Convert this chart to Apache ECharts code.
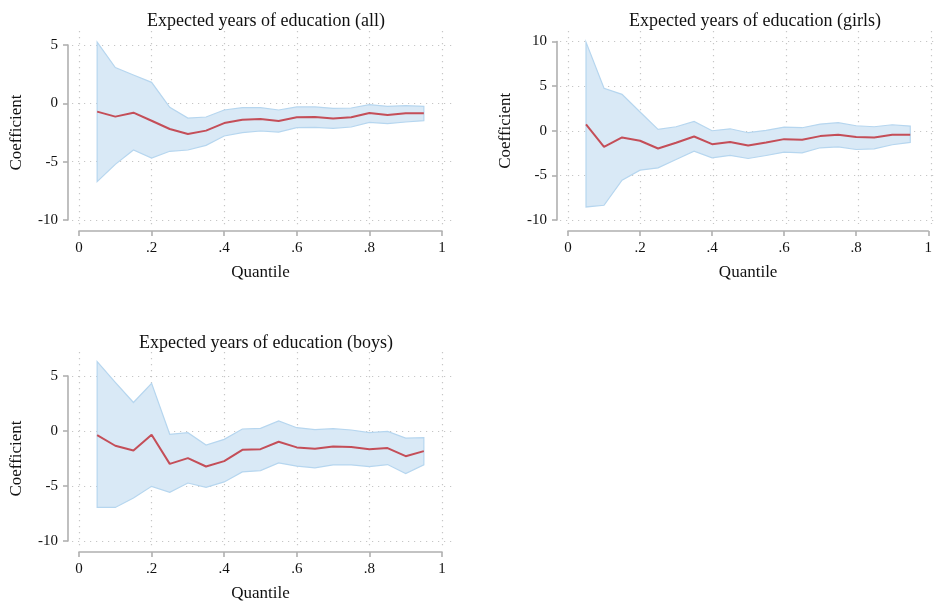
<!DOCTYPE html>
<html>
<head>
<meta charset="utf-8">
<script src="https://cdn.jsdelivr.net/npm/echarts@6/dist/echarts.min.js"></script>
<style>
  html, body { margin: 0; padding: 0; background: #ffffff; }
  #chart { width: 935px; height: 604px; }
</style>
</head>
<body>
<div id="chart"></div>
<script>
// Quantile regression estimates with 95% confidence bands
const quantiles = [0.05, 0.10, 0.15, 0.20, 0.25, 0.30, 0.35, 0.40, 0.45, 0.50,
                   0.55, 0.60, 0.65, 0.70, 0.75, 0.80, 0.85, 0.90, 0.95];
const xTickLabels = ['0', '.2', '.4', '.6', '.8', '1'];
const panelTitles = [
  'Expected years of education (all)',
  'Expected years of education (girls)',
  'Expected years of education (boys)'
];

const allCoef  = [-0.71, -1.14, -0.80, -1.49, -2.20, -2.63, -2.34, -1.69, -1.40, -1.34,
                  -1.51, -1.20, -1.17, -1.31, -1.20, -0.83, -1.00, -0.86, -0.86];
const allUpper = [5.25, 3.06, 2.43, 1.80, -0.34, -1.26, -1.17, -0.57, -0.37, -0.37,
                  -0.57, -0.31, -0.31, -0.43, -0.40, -0.11, -0.26, -0.20, -0.26];
const allLower = [-6.71, -5.23, -4.00, -4.69, -4.11, -4.00, -3.60, -2.80, -2.51, -2.37,
                  -2.46, -2.09, -2.06, -2.14, -2.03, -1.63, -1.74, -1.60, -1.49];

const girlsCoef  = [0.71, -1.80, -0.75, -1.12, -1.99, -1.35, -0.64, -1.50, -1.27, -1.65,
                    -1.31, -0.94, -1.01, -0.60, -0.45, -0.71, -0.75, -0.45, -0.45];
const girlsUpper = [9.93, 4.76, 4.08, 2.10, 0.15, 0.45, 1.05, 0.00, 0.22, -0.22,
                    0.04, 0.41, 0.34, 0.75, 0.90, 0.56, 0.45, 0.67, 0.52];
const girlsLower = [-8.54, -8.35, -5.54, -4.42, -4.16, -3.22, -2.28, -3.03, -2.77, -3.11,
                    -2.77, -2.40, -2.47, -1.91, -1.80, -2.10, -2.02, -1.57, -1.31];

const boysCoef  = [-0.37, -1.34, -1.77, -0.34, -2.99, -2.47, -3.23, -2.74, -1.71, -1.65,
                   -0.98, -1.49, -1.62, -1.40, -1.46, -1.65, -1.55, -2.29, -1.83];
const boysUpper = [6.31, 4.42, 2.59, 4.33, -0.30, -0.15, -1.28, -0.76, 0.18, 0.24,
                   0.91, 0.30, 0.12, 0.21, 0.09, -0.15, -0.03, -0.64, -0.61];
const boysLower = [-6.95, -6.95, -6.10, -5.03, -5.58, -4.73, -5.12, -4.63, -3.72, -3.60,
                   -2.90, -3.20, -3.35, -3.08, -3.08, -3.23, -3.05, -3.87, -3.08];

// Panel geometry (pixels) and y ranges
const panels = [
  { title: panelTitles[0], coef: allCoef, upper: allUpper, lower: allLower,
    left: 79, top: 45, width: 363, height: 175, yMin: -10, yMax: 5,
    gridTop: 31, gridBottom: 227, hLeft: 72, hRight: 452, titleX: 261, titleTop: 7 },
  { title: panelTitles[1], coef: girlsCoef, upper: girlsUpper, lower: girlsLower,
    left: 568, top: 41.5, width: 363, height: 178.5, yMin: -10, yMax: 10,
    gridTop: 31, gridBottom: 224, hLeft: 560, hRight: 945, titleX: 750, titleTop: 7 },
  { title: panelTitles[2], coef: boysCoef, upper: boysUpper, lower: boysLower,
    left: 79, top: 376, width: 363, height: 165, yMin: -10, yMax: 5,
    gridTop: 352, gridBottom: 548, hLeft: 72, hRight: 452, titleX: 261, titleTop: 329 }
];

const FONT = '"Liberation Serif", "Times New Roman", serif';
const TEXT = '#111111';
const AXIS = '#b0b0b0';
const GRIDLINE = { color: '#c6c6c6', width: 1.2, type: [1.2, 4.8] };
const BAND_FILL = '#d9e9f6';
const BAND_EDGE = '#b6d6ef';
const RED = '#c44e58';

const W = 935, H = 604;
const option = { animation: false, backgroundColor: '#ffffff',
  title: [], grid: [], xAxis: [], yAxis: [], series: [] };

const hidden = { axisLine: { show: false }, axisTick: { show: false }, axisLabel: { show: false } };

panels.forEach((p) => {
  option.title.push({
    text: p.title, left: p.titleX, top: p.titleTop, textAlign: 'center',
    textStyle: { fontFamily: FONT, fontSize: 18, fontWeight: 'normal', color: TEXT }
  });

  const g = option.grid.length;
  // data grid
  option.grid.push({ left: p.left, top: p.top, width: p.width, height: p.height });
  // vertical gridlines span the full plot region height
  option.grid.push({ left: p.left, top: p.gridTop, width: p.width, height: p.gridBottom - p.gridTop });
  // horizontal gridlines span the full plot region width
  option.grid.push({ left: p.hLeft, top: p.top, width: p.hRight - p.hLeft, height: p.height });

  // --- data axes ---
  option.xAxis.push({
    gridIndex: g, type: 'value', min: 0, max: 1, interval: 0.2, offset: 11,
    name: 'Quantile', nameLocation: 'middle', nameGap: 33,
    nameTextStyle: { fontFamily: FONT, fontSize: 17, color: TEXT },
    axisLine: { show: true, onZero: false, lineStyle: { color: AXIS, width: 1.6 } },
    axisTick: { show: true, length: 5, lineStyle: { color: AXIS, width: 1.6 } },
    axisLabel: { fontFamily: FONT, fontSize: 15, color: TEXT, margin: 10,
      formatter: v => xTickLabels[Math.round(v / 0.2)] },
    splitLine: { show: false }
  });
  option.yAxis.push({
    gridIndex: g, type: 'value', min: p.yMin, max: p.yMax, interval: 5, offset: 11,
    name: 'Coefficient', nameLocation: 'middle', nameGap: 43, nameRotate: 90,
    nameTextStyle: { fontFamily: FONT, fontSize: 17, color: TEXT },
    axisLine: { show: true, onZero: false, lineStyle: { color: AXIS, width: 1.6 } },
    axisTick: { show: true, length: 5, lineStyle: { color: AXIS, width: 1.6 } },
    axisLabel: { fontFamily: FONT, fontSize: 15, color: TEXT, margin: 10 },
    splitLine: { show: false }
  });

  // --- vertical gridline axes ---
  option.xAxis.push(Object.assign({
    gridIndex: g + 1, type: 'value', min: 0, max: 1, interval: 0.2,
    splitLine: { show: true, lineStyle: GRIDLINE }
  }, hidden));
  option.yAxis.push(Object.assign({
    gridIndex: g + 1, type: 'value', min: 0, max: 1, splitLine: { show: false }
  }, hidden));

  // --- horizontal gridline axes ---
  option.xAxis.push(Object.assign({
    gridIndex: g + 2, type: 'value', min: 0, max: 1, splitLine: { show: false }
  }, hidden));
  option.yAxis.push(Object.assign({
    gridIndex: g + 2, type: 'value', min: p.yMin, max: p.yMax, interval: 5,
    splitLine: { show: true, lineStyle: GRIDLINE }
  }, hidden));

  // confidence band as one polygon: upper edge forward, lower edge back
  option.series.push({
    type: 'custom', xAxisIndex: g, yAxisIndex: g, silent: true, z: 1,
    data: quantiles.map((q, k) => [q, p.upper[k], p.lower[k]]),
    encode: { x: 0, y: [1, 2] },
    renderItem: (params, api) => {
      if (params.dataIndex !== 0) return null;
      const pts = [];
      quantiles.forEach((q, k) => pts.push(api.coord([q, p.upper[k]])));
      for (let k = quantiles.length - 1; k >= 0; k--) pts.push(api.coord([quantiles[k], p.lower[k]]));
      return { type: 'polygon', shape: { points: pts },
               style: { fill: BAND_FILL, stroke: BAND_EDGE, lineWidth: 1.2 } };
    }
  });
  option.series.push({
    type: 'line', xAxisIndex: g, yAxisIndex: g,
    data: quantiles.map((q, k) => [q, p.coef[k]]),
    symbol: 'none', silent: true,
    lineStyle: { color: RED, width: 2 }, z: 3
  });
});

const chart = echarts.init(document.getElementById('chart'), null, { renderer: 'canvas', width: W, height: H });
chart.setOption(option);
</script>
</body>
</html>
